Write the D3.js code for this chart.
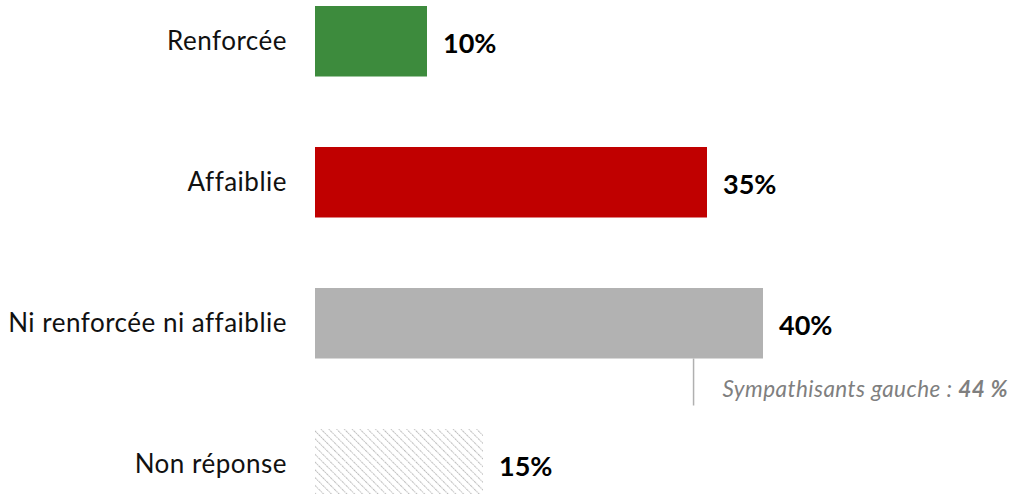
<!DOCTYPE html>
<html>
<head>
<meta charset="utf-8">
<script src="https://cdn.jsdelivr.net/npm/d3@7"></script>
<style>
  body { margin: 0; background: #fff; }
  text { font-family: Lato, "Open Sans", sans-serif; }
</style>
</head>
<body>
<div id="chart"></div>
<script>
// data
var categories = ["Renforcée", "Affaiblie", "Ni renforcée ni affaiblie", "Non réponse"];
var values = [10, 35, 40, 15];
var colors = ["#3d8b3d", "#c00000", "#b2b2b2", "url(#hatch)"];
var noteText = "Sympathisants gauche : ";
var noteValue = "44 %";

var width = 1009, height = 494;

var svg = d3.select("#chart").append("svg")
  .attr("width", width).attr("height", height);

// hatch pattern for the non-response bar
var pat = svg.append("defs").append("pattern")
  .attr("id", "hatch").attr("patternUnits", "userSpaceOnUse")
  .attr("width", 5.5).attr("height", 5.5)
  .attr("patternTransform", "rotate(-45)");
pat.append("line").attr("x1", 0).attr("y1", 0).attr("x2", 0).attr("y2", 5.5)
  .attr("stroke", "#bdbdbd").attr("stroke-width", 2)
  .attr("stroke-dasharray", "1.5,0.8");

var x = d3.scaleLinear().domain([0, 40]).range([315, 763]);
var y = d3.scaleBand().domain(categories).range([6, 499.5]).paddingInner(0.5);

var rows = categories.map(function (c, i) {
  return { cat: c, val: values[i], color: colors[i] };
});

svg.selectAll("rect.bar").data(rows).enter().append("rect")
  .attr("class", "bar")
  .attr("x", x(0))
  .attr("y", function (d) { return y(d.cat); })
  .attr("width", function (d) { return x(d.val) - x(0); })
  .attr("height", y.bandwidth())
  .attr("fill", function (d) { return d.color; });

// category labels
svg.selectAll("text.cat").data(rows).enter().append("text")
  .attr("class", "cat")
  .attr("x", x(0) - 28)
  .attr("y", function (d) { return y(d.cat) + y.bandwidth() / 2; })
  .attr("dy", "0.35em")
  .attr("text-anchor", "end")
  .attr("font-size", 26)
  .attr("letter-spacing", 0.5)
  .attr("fill", "#111")
  .text(function (d) { return d.cat; });

// value labels
svg.selectAll("text.val").data(rows).enter().append("text")
  .attr("class", "val")
  .attr("x", function (d) { return x(d.val) + 16; })
  .attr("y", function (d) { return y(d.cat) + y.bandwidth() / 2 + 2.5; })
  .attr("dy", "0.36em")
  .attr("font-size", 27)
  .attr("font-weight", "bold")
  .attr("fill", "#000")
  .text(function (d) { return d.val + "%"; });

// annotation under "Ni renforcée ni affaiblie"
var noteCat = categories[2];
var lineX = x(33.8);
var lineTop = y(noteCat) + y.bandwidth();
svg.append("line")
  .attr("x1", lineX).attr("x2", lineX)
  .attr("y1", lineTop).attr("y2", lineTop + 47)
  .attr("stroke", "#b0b0b0").attr("stroke-width", 1.5);

var note = svg.append("text")
  .attr("x", lineX + 29)
  .attr("y", lineTop + 38.5)
  .attr("font-size", 22.5)
  .attr("letter-spacing", 0.45)
  .attr("font-style", "italic")
  .attr("fill", "#7f7f7f");
note.append("tspan").text(noteText);
note.append("tspan").attr("font-weight", "bold").text(noteValue);
</script>
</body>
</html>
